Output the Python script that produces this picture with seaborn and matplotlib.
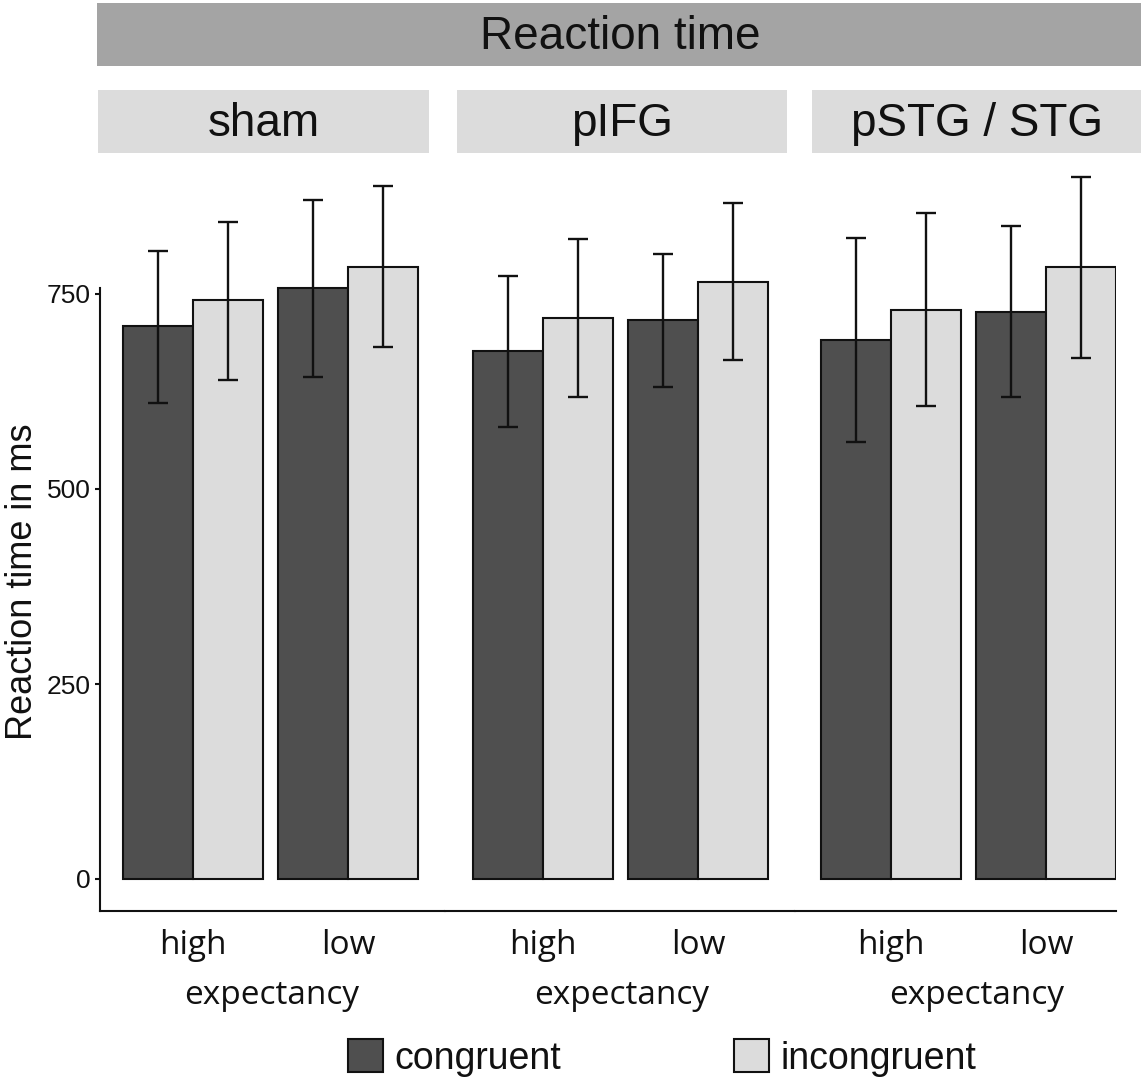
import matplotlib
matplotlib.use("Agg")
import matplotlib.pyplot as plt
from matplotlib.patches import Rectangle, Patch
import seaborn as sns
import pandas as pd
import numpy as np

# ---------------- data ----------------
sites = ["sham", "pIFG", "pSTG / STG"]
expectancy = ["high", "low"]
congruency = ["congruent", "incongruent"]

# mean reaction time (ms): per site, order = [high-cong, high-incong, low-cong, low-incong]
rt_sham = [709, 742, 758, 785]
rt_pifg = [677, 719, 717, 766]
rt_pstg = [691, 729, 727, 785]

# error bar lower / upper ends (ms)
lo_sham = [610, 640, 644, 682]
hi_sham = [805, 842, 870, 888]
lo_pifg = [579, 618, 631, 665]
hi_pifg = [773, 820, 801, 867]
lo_pstg = [560, 606, 618, 668]
hi_pstg = [822, 854, 837, 900]

yticks = [0, 250, 500, 750]
title = "Reaction time"
ylabel = "Reaction time in ms"
xlabel = "expectancy"

colors = {"congruent": "#4f4f4f", "incongruent": "#dcdcdc"}

rows = []
for site, rts, los, his in zip(sites, [rt_sham, rt_pifg, rt_pstg],
                               [lo_sham, lo_pifg, lo_pstg], [hi_sham, hi_pifg, hi_pstg]):
    k = 0
    for e in expectancy:
        for c in congruency:
            rows.append(dict(site=site, expectancy=e, congruency=c,
                             rt=rts[k], lo=los[k], hi=his[k]))
            k += 1
df = pd.DataFrame(rows)

# ---------------- figure ----------------
sns.set_theme(style="white")
plt.rcParams["font.family"] = ["Liberation Sans", "DejaVu Sans"]

W, H = 1141, 1080
fig = plt.figure(figsize=(W / 100, H / 100), dpi=100)

def fx(px):
    return px / W

def fy(py):
    return 1 - py / H

px_per_unit = 0.78
y0_pix = 879
ax_bottom_pix = 911
ax_top_pix = 170
ylim = ((y0_pix - ax_bottom_pix) / px_per_unit, (y0_pix - ax_top_pix) / px_per_unit)

panels = [(100, 445, 193), (445, 795, 543), (795, 1116, 891)]  # left, right, center of first category
label_centers = [272, 622, 977]
cat_px = 155

for i, (site, (lpx, rpx, cpx)) in enumerate(zip(sites, panels)):
    ax = fig.add_axes([fx(lpx), fy(ax_bottom_pix), fx(rpx - lpx), (ax_bottom_pix - ax_top_pix) / H])
    sub = df[df.site == site]
    sns.barplot(data=sub, x="expectancy", y="rt", hue="congruency",
                order=expectancy, hue_order=congruency, palette=colors,
                width=0.9, errorbar=None, edgecolor="#111111", linewidth=1.5,
                saturation=1, legend=False, ax=ax)
    for cont, c in zip(ax.containers, congruency):
        for bar, e in zip(cont, expectancy):
            r = sub[(sub.expectancy == e) & (sub.congruency == c)].iloc[0]
            xc = bar.get_x() + bar.get_width() / 2
            ax.errorbar([xc], [r.rt], yerr=[[r.rt - r.lo], [r.hi - r.rt]],
                        fmt="none", ecolor="#111111", elinewidth=1.7,
                        capsize=7.5, capthick=1.7, clip_on=False, zorder=5)
    ax.set_xlim((lpx - cpx) / cat_px, (rpx - cpx) / cat_px)
    ax.set_ylim(*ylim)
    for s in ["top", "right"]:
        ax.spines[s].set_visible(False)
    ax.spines["bottom"].set_color("#111111")
    ax.spines["bottom"].set_linewidth(1.5)
    ax.set_xticks([0, 1])
    ax.set_xticklabels(expectancy, family=["Open Sans", "DejaVu Sans"], fontsize=24, color="#111111")
    ax.tick_params(axis="x", length=0, pad=13)
    ax.set_xlabel(xlabel, family=["Open Sans", "DejaVu Sans"], fontsize=24, color="#111111", labelpad=4)
    ax.xaxis.set_label_coords((label_centers[i] - lpx) / (rpx - lpx), (ax_bottom_pix - 1012) / (ax_bottom_pix - ax_top_pix))
    ax.xaxis.label.set_va("bottom")
    ax.set_ylabel("")
    if i == 0:
        ax.spines["left"].set_color("#111111")
        ax.spines["left"].set_linewidth(1.5)
        ax.spines["left"].set_bounds(ylim[0], 758)
        ax.set_yticks(yticks)
        ax.set_yticklabels([str(t) for t in yticks], fontsize=19, color="#111111")
        ax.tick_params(axis="y", length=3.5, width=1.5, color="#111111", pad=3, left=True)
    else:
        ax.spines["left"].set_visible(False)
        ax.set_yticks([])

# strips
fig.add_artist(Rectangle((fx(97), fy(66)), fx(W - 97), (66 - 3) / H,
                         transform=fig.transFigure, facecolor="#a4a4a4", edgecolor="none"))
fig.text(fx(620), fy(37), title, ha="center", va="center", fontsize=33, color="#111111")

strips = [(98, 429), (457, 787), (812, 1141)]
for site, (l, r) in zip(sites, strips):
    fig.add_artist(Rectangle((fx(l), fy(153)), fx(r - l), (153 - 90) / H,
                             transform=fig.transFigure, facecolor="#dcdcdc", edgecolor="none"))
    fig.text(fx((l + r) / 2), fy(124), site, ha="center", va="center", fontsize=33, color="#111111")

# y label
fig.text(fx(23), fy(582), ylabel, rotation=90, ha="center", va="center", fontsize=26, color="#111111")

# legend
handles = [Patch(facecolor=colors[c], edgecolor="#111111", linewidth=1.5) for c in congruency]
fig.legend(handles, congruency, loc="center", bbox_to_anchor=(fx(662), fy(1058)),
           ncol=2, frameon=False, fontsize=27, handlelength=0.95, handleheight=0.95,
           handletextpad=0.3, columnspacing=4.6, labelcolor="#111111")

fig.savefig("out.png", dpi=100)
